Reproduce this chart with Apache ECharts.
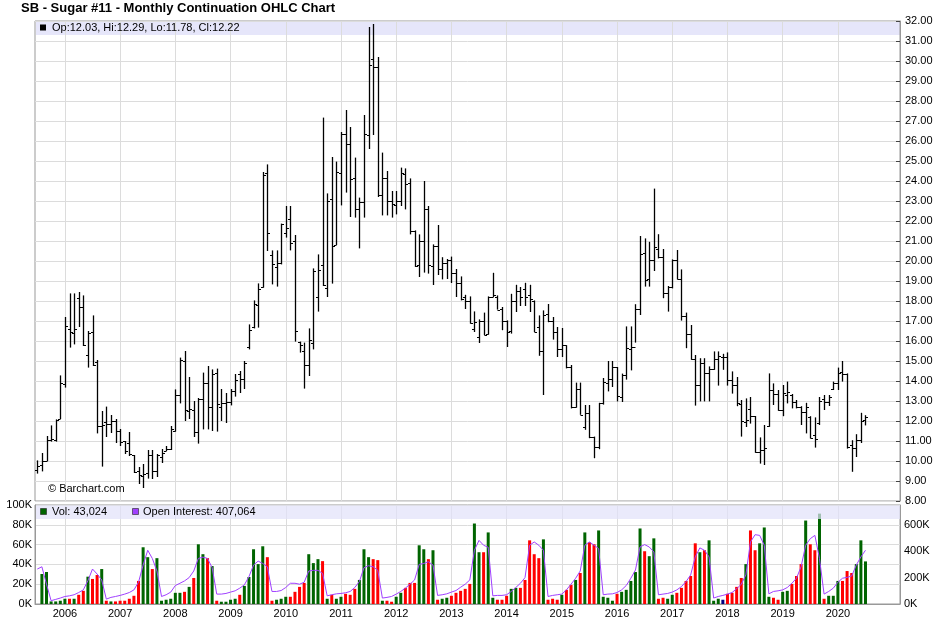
<!DOCTYPE html>
<html><head><meta charset="utf-8">
<script src="https://cdn.jsdelivr.net/npm/echarts@6/dist/echarts.min.js"></script>
<style>html,body{margin:0;padding:0;background:#fff;}#c{width:948px;height:626px;}</style>
</head><body><div id="c"></div>
<script>
// Monthly continuation, Jul 2005 .. Jul 2020
const startYear = 2005, startMonth = 6; // 0-based month (Jul)
const nSlots = 188;
const open = [9.55,9.8,10.0,11.03,11.05,12.1,13.85,16.6,16.4,18.15,
17.7,15.3,16.45,14.95,11.75,11.95,11.85,12.0,11.5,11.0,
10.9,10.3,9.5,9.25,9.4,10.3,9.5,10.2,10.5,10.6,
11.5,13.3,15.0,12.5,12.55,11.45,13.1,13.9,12.72,14.4,
12.7,12.9,12.95,13.5,14.33,14.1,15.7,16.7,17.8,18.7,
24.4,20.3,19.7,19.9,21.4,22.08,21.0,15.95,15.5,14.8,
15.9,18.2,19.8,18.67,23.1,20.8,24.4,26.37,25.83,24.13,
22.6,22.97,26.3,30.1,29.7,23.3,24.17,23.0,22.8,23.0,
24.33,23.92,21.5,19.8,21.0,22.58,19.77,20.77,19.6,19.9,
20.05,19.4,18.9,18.2,18.0,16.6,16.2,17.0,16.35,18.2,
18.2,17.6,17.0,16.5,18.0,18.5,18.6,18.3,18.0,16.7,
15.5,17.33,17.0,16.45,15.6,15.78,14.68,12.7,13.6,11.7,
12.4,11.2,10.7,12.9,13.9,14.1,14.7,13.2,14.3,15.6,
15.7,17.6,20.4,19.1,20.05,20.6,20.2,18.4,18.72,20.05,
19.08,17.25,16.34,15.1,13.82,14.9,14.4,14.6,15.1,15.22,
15.22,14.03,13.8,12.85,11.95,12.6,12.24,10.46,10.57,11.75,
13.55,13.33,12.54,13.3,13.3,12.96,12.68,12.46,12.2,11.3,
11.9,13.1,12.95,13.6,13.88,14.45,14.35,10.8,10.65,11.04,
12.03];
const high = [10.03,10.4,11.25,11.78,12.08,14.28,17.2,18.38,18.38,18.45,
18.28,16.5,17.28,15.05,12.5,12.72,12.3,12.1,11.6,11.0,
11.45,10.3,9.7,9.85,10.55,10.55,10.35,10.6,10.75,11.75,
13.58,15.17,15.5,14.2,13.0,13.15,14.42,14.75,14.58,14.62,
13.6,13.4,13.6,14.35,14.5,15.0,16.83,18.03,18.88,24.45,
24.83,20.53,20.53,21.87,22.75,22.75,21.3,15.97,15.92,16.63,
19.63,20.33,27.17,23.38,25.2,24.97,26.45,27.55,26.7,25.17,
23.17,27.3,31.7,31.85,30.2,25.42,24.5,23.5,23.5,24.67,
24.63,24.13,21.53,21.33,24.0,22.75,20.83,21.8,20.19,20.1,
20.22,19.6,19.23,18.31,18.23,17.48,17.08,17.42,18.23,19.41,
18.28,17.7,17.03,18.36,18.81,18.7,18.91,18.81,18.03,17.28,
17.53,17.85,17.2,16.7,16.65,15.79,14.8,13.92,13.92,12.8,
12.8,11.22,12.91,14.15,15.0,15.0,14.7,14.37,16.73,16.73,
17.84,21.25,21.13,20.96,23.62,21.34,20.6,18.75,20.08,20.55,
19.58,17.42,16.8,15.3,15.14,15.14,14.73,15.48,15.48,15.36,
15.43,14.48,14.2,13.05,13.13,13.2,12.25,11.18,11.8,14.38,
13.88,13.55,13.8,13.97,13.35,13.05,12.74,12.91,12.24,12.18,
13.2,13.3,13.3,13.97,14.67,15.0,14.38,11.04,11.34,12.41,
12.29];
const low = [9.37,9.48,10.0,10.97,10.97,12.1,13.67,15.67,15.83,16.7,
15.75,14.67,14.75,11.38,9.72,11.2,11.4,10.9,10.75,10.35,
10.25,9.4,8.85,8.65,9.12,9.1,9.2,9.9,10.5,10.55,
11.47,12.88,12.0,12.1,11.2,10.87,11.58,11.58,11.5,11.47,
12.0,11.9,12.78,13.22,13.4,13.6,15.58,16.63,16.67,18.67,
20.5,18.83,18.72,19.83,21.17,20.53,15.97,15.42,13.62,14.25,
15.58,17.47,18.75,18.2,18.87,20.8,22.78,23.42,22.2,22.17,
20.63,22.17,25.6,26.3,23.2,22.28,22.28,22.17,22.33,22.75,
22.58,21.33,19.7,19.2,19.42,19.37,18.8,19.3,19.08,19.1,
18.9,18.2,18.03,17.6,16.87,16.45,15.9,16.29,16.32,18.2,
17.57,16.54,15.7,16.37,17.45,17.75,17.75,17.45,16.45,15.26,
13.3,16.94,16.07,15.2,15.2,14.63,12.63,12.67,12.31,11.56,
11.14,10.14,10.59,12.82,13.48,13.7,12.98,12.95,14.07,14.53,
15.92,17.3,18.72,18.72,19.5,20.13,18.14,17.47,18.63,19.08,
17.02,15.64,15.06,12.77,12.98,12.98,12.98,14.56,13.77,14.56,
13.77,13.37,12.74,11.22,11.7,11.87,10.41,9.87,9.8,11.71,
12.8,12.51,12.24,12.88,12.63,12.63,11.8,11.38,11.13,10.67,
11.8,12.55,12.75,13.55,13.55,13.97,10.62,9.46,10.2,10.9,
11.78];
const close = [9.75,10.0,11.05,11.08,12.05,13.9,16.75,16.45,16.6,17.7,
15.8,16.4,14.8,11.75,11.82,11.85,12.0,11.5,10.95,10.5,
10.35,9.45,9.3,9.35,10.3,9.5,10.3,10.4,10.6,11.6,
13.3,15.03,12.55,12.6,11.45,13.1,13.92,12.72,14.33,12.83,
12.9,12.95,13.5,14.05,14.1,14.9,16.53,17.83,18.58,24.3,
21.4,19.83,19.88,21.83,21.67,20.92,16.5,15.8,14.8,16.03,
19.5,19.55,18.8,23.0,20.75,24.47,26.37,25.83,24.1,22.6,
22.97,26.33,29.8,29.7,23.3,24.17,23.0,22.83,23.0,24.42,
23.83,21.5,19.75,21.0,22.58,19.8,20.75,19.6,19.9,20.05,
19.4,18.9,18.08,18.0,16.9,16.95,17.0,16.32,18.2,18.3,
17.57,17.0,16.45,18.0,18.5,18.2,18.2,18.1,16.45,15.5,
17.3,17.0,16.45,15.6,15.78,14.68,12.68,13.6,12.31,12.4,
11.2,10.7,12.88,13.95,14.1,14.7,13.23,14.3,15.63,15.7,
17.6,20.35,19.05,20.05,20.7,20.2,18.4,18.72,20.05,19.08,
17.25,16.34,15.1,13.82,14.9,14.4,14.6,15.1,15.25,15.22,
14.03,13.8,12.9,12.0,12.05,12.24,10.46,10.57,10.67,13.55,
13.33,12.54,13.41,13.46,12.96,12.68,12.46,12.71,11.13,11.1,
13.0,12.95,13.2,13.88,14.38,14.35,10.7,10.65,11.04,12.0,
12.22];
// volume, thousands of contracts
const volume = [null,30.3,32.3,2.6,2.6,3.3,5.3,5.3,5.3,9.3,
13.3,27.6,25.3,29.3,35.3,3.3,2.6,2.6,3.3,3.3,
5.3,8.3,23.3,57.3,47.3,35.3,46.3,3.3,4.3,5.3,
11.3,11.3,12.3,17.3,26.3,60.3,50.3,46.3,38.3,3.3,
2.3,2.3,4.3,5.3,9.3,18.3,27.3,55.3,40.3,58.3,
47.3,3.3,4.3,5.3,7.3,7.3,12.3,17.3,21.3,50.3,
41.3,45.3,43.3,5.3,9.3,5.3,7.3,10.3,9.3,15.3,
24.3,55.3,47.3,45.3,44.3,3.3,3.3,2.3,7.3,11.3,
16.3,21.3,21.3,59.3,55.3,45.3,54.3,4.3,5.3,6.3,
8.3,11.3,13.3,15.3,20.3,81.3,52.3,52.3,72.3,6.3,
4.3,4.3,8.3,15.3,16.3,16.3,24.3,64.3,50.3,46.3,
65.3,4.3,5.3,4.3,9.3,14.3,19.3,24.3,31.3,72.3,
62.3,60.3,74.3,7.3,6.3,3.3,10.3,12.3,14.3,23.3,
32.3,76.3,53.3,48.3,66.3,5.3,6.3,5.3,9.3,11.3,
16.3,23.3,28.3,61.3,52.3,54.3,64.3,3.3,5.3,4.3,
10.3,11.3,17.3,26.3,40.3,74.3,54.3,61.3,77.3,7.3,
6.3,4.3,12.3,13.3,20.3,28.3,40.3,84.3,60.3,54.3,
91.3,5.3,8.3,8.3,23.3,23.3,33.3,31.3,40.3,64.3,
43.024];
// open interest, thousands
const openInterest = [265,282,150,25,35,45,57,62,70,87,
107,177,265,227,182,37,50,57,65,75,
87,107,165,295,407,345,250,57,70,90,
140,157,175,200,250,345,355,345,275,75,
75,80,90,100,120,145,207,295,325,307,
282,95,95,102,125,157,157,150,165,250,
255,255,232,62,70,77,80,85,95,125,
170,275,290,282,255,45,50,57,75,95,
120,150,182,300,307,320,295,65,70,77,
90,102,127,150,182,407,482,445,430,62,
65,65,70,95,125,157,200,445,470,445,
407,57,65,70,75,107,150,195,250,445,
470,445,420,70,75,77,87,107,140,195,
257,432,450,432,395,70,75,80,90,107,
132,170,220,357,425,407,357,45,57,65,
75,87,115,150,220,470,525,520,445,77,
95,100,107,125,157,195,282,445,495,520,
345,75,95,120,165,195,202,212,295,357,
407.064];
const priceTicks = {min: 8, max: 32, step: 1};
const volTicks = {min: 0, max: 100, step: 20};
const oiTicks = {min: 0, max: 750, step: 200};

const months = [];
for (let k = 0; k < nSlots; k++) {
  const m = (startMonth + k) % 12;
  const y = startYear + Math.floor((startMonth + k) / 12);
  months.push(y + '-' + String(m + 1).padStart(2, '0'));
}
const nData = close.length;
const isJan = (idx) => (startMonth + idx) % 12 === 0 && idx < nData;
const last = nData - 1;
const FONT = 'Liberation Sans, Arial, Helvetica, sans-serif';
const GREEN = '#006400', RED = '#ff0000', NAVY = '#000080', PURPLE = '#a040ff';
const fmtInt = (v) => Math.round(v * 1000).toLocaleString('en-US');

const ohlc = open.map((o, i) => [i, o, high[i], low[i], close[i]]);
const volData = volume.map((v, i) => ({
  value: v,
  itemStyle: {color: close[i] > open[i] ? GREEN : (close[i] < open[i] ? RED : NAVY)}
}));

const chart = echarts.init(document.getElementById('c'), null, {renderer: 'canvas'});
const gridLine = {color: '#dcdcdc', width: 1};
chart.setOption({
  animation: false,
  backgroundColor: '#fff',
  textStyle: {fontFamily: FONT},
  grid: [
    {left: 35, right: 48, top: 21, height: 480, show: true, borderColor: '#999', borderWidth: 1},
    {left: 35, right: 48, top: 505, height: 99, show: true, borderColor: '#999', borderWidth: 1}
  ],
  xAxis: [
    {type: 'category', gridIndex: 0, data: months, boundaryGap: true,
      axisLine: {show: false}, axisTick: {show: false}, axisLabel: {show: false},
      splitLine: {show: true, interval: (i) => isJan(i), alignWithLabel: true, lineStyle: gridLine}},
    {type: 'category', gridIndex: 1, data: months, boundaryGap: true,
      axisLine: {show: true, lineStyle: {color: '#999'}}, axisTick: {show: false},
      axisLabel: {show: true, interval: (i) => isJan(i), formatter: (v) => v.slice(0, 4),
        fontSize: 11, color: '#000', margin: 4, fontFamily: FONT},
      splitLine: {show: true, interval: (i) => isJan(i), alignWithLabel: true, lineStyle: gridLine}}
  ],
  yAxis: [
    {type: 'value', gridIndex: 0, position: 'right', min: priceTicks.min, max: priceTicks.max, interval: priceTicks.step,
      axisLine: {show: true, lineStyle: {color: '#999'}},
      axisTick: {show: true, inside: true, length: 4, lineStyle: {color: '#444'}},
      axisLabel: {formatter: (v) => v.toFixed(2), fontSize: 11, color: '#000', margin: 5, fontFamily: FONT},
      splitLine: {show: true, lineStyle: gridLine}},
    {type: 'value', gridIndex: 1, position: 'left', min: volTicks.min, max: volTicks.max, interval: volTicks.step,
      axisLine: {show: true, lineStyle: {color: '#999'}},
      axisTick: {show: false},
      axisLabel: {formatter: (v) => v + 'K', fontSize: 11, color: '#000', margin: 3, fontFamily: FONT},
      splitLine: {show: true, lineStyle: gridLine}},
    {type: 'value', gridIndex: 1, position: 'right', min: oiTicks.min, max: oiTicks.max, interval: oiTicks.step,
      axisLine: {show: true, lineStyle: {color: '#999'}},
      axisTick: {show: false},
      axisLabel: {formatter: (v) => v + 'K', fontSize: 11, color: '#000', margin: 4, showMaxLabel: false, fontFamily: FONT},
      splitLine: {show: false}}
  ],
  series: [
    {
      type: 'custom', xAxisIndex: 0, yAxisIndex: 0, z: 5,
      encode: {x: 0, y: [1, 2, 3, 4]},
      data: ohlc,
      renderItem: function (params, api) {
        const x = api.value(0);
        const pO = api.coord([x, api.value(1)]);
        const pH = api.coord([x, api.value(2)]);
        const pL = api.coord([x, api.value(3)]);
        const pC = api.coord([x, api.value(4)]);
        const cx = Math.round(pH[0]) + 0.5;
        const yo = Math.round(pO[1]) + 0.5, yc = Math.round(pC[1]) + 0.5;
        return {type: 'group', children: [
          {type: 'line', shape: {x1: cx, y1: pH[1], x2: cx, y2: pL[1]}, style: {stroke: '#000', lineWidth: 1.3}},
          {type: 'line', shape: {x1: cx - 2.5, y1: yo, x2: cx, y2: yo}, style: {stroke: '#000', lineWidth: 1}},
          {type: 'line', shape: {x1: cx, y1: yc, x2: cx + 2.5, y2: yc}, style: {stroke: '#000', lineWidth: 1}}
        ]};
      },
      markLine: {
        silent: true, symbol: ['none', 'none'], animation: false,
        lineStyle: {opacity: 0},
        label: {show: true, position: 'end', distance: 3, formatter: () => close[last].toFixed(2),
          color: '#fff', backgroundColor: '#000', padding: [2, 2, 1, 2], fontSize: 11, fontFamily: FONT},
        data: [{yAxis: close[last]}]
      }
    },
    {
      type: 'bar', xAxisIndex: 1, yAxisIndex: 1, barWidth: 3, z: 2,
      data: volData
    },
    {
      type: 'line', xAxisIndex: 1, yAxisIndex: 2, z: 3, data: openInterest,
      showSymbol: false, symbol: 'none', lineStyle: {color: PURPLE, width: 1}, itemStyle: {color: PURPLE}
    }
  ],
  graphic: {elements: [
    {type: 'rect', z: -10, shape: {x: 36, y: 22, width: 864, height: 13}, style: {fill: '#e6e6fa'}, silent: true},
    {type: 'rect', z: 100, shape: {x: 36, y: 505.5, width: 864, height: 13.5}, style: {fill: 'rgba(226,226,250,0.72)'}, silent: true},
    {type: 'text', z: 101, x: 21, y: 8.5, style: {text: 'SB - Sugar #11 - Monthly Continuation OHLC Chart',
      fontSize: 13, fontWeight: 'bold', fontFamily: FONT, fill: '#000', align: 'left', verticalAlign: 'middle'}},
    {type: 'rect', z: 101, shape: {x: 40, y: 24.5, width: 6, height: 6}, style: {fill: '#000'}},
    {type: 'text', z: 101, x: 52, y: 28, style: {
      text: 'Op:' + open[last].toFixed(2) + ', Hi:' + high[last].toFixed(2) + ', Lo:' + low[last].toFixed(2) + ', Cl:' + close[last].toFixed(2),
      fontSize: 11, fontFamily: FONT, fill: '#000', align: 'left', verticalAlign: 'middle'}},
    {type: 'rect', z: 101, shape: {x: 40.5, y: 508.5, width: 6, height: 6}, style: {fill: GREEN, stroke: '#222', lineWidth: 0.6}},
    {type: 'text', z: 101, x: 52, y: 512, style: {text: 'Vol: ' + fmtInt(volume[last]),
      fontSize: 11, fontFamily: FONT, fill: '#000', align: 'left', verticalAlign: 'middle'}},
    {type: 'rect', z: 101, shape: {x: 132.5, y: 508.5, width: 6, height: 6}, style: {fill: PURPLE, stroke: '#222', lineWidth: 0.6}},
    {type: 'text', z: 101, x: 143, y: 512, style: {text: 'Open Interest: ' + fmtInt(openInterest[last]),
      fontSize: 11, fontFamily: FONT, fill: '#000', align: 'left', verticalAlign: 'middle'}},
    {type: 'text', z: 101, x: 48, y: 489, style: {text: '\u00A9 Barchart.com',
      fontSize: 11, fontFamily: FONT, fill: '#000', align: 'left', verticalAlign: 'middle'}}
  ]}
});
</script>
</body></html>
